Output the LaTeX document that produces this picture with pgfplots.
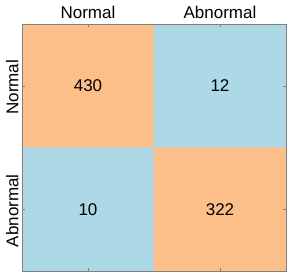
\documentclass[border=0pt]{standalone}
\usepackage{pgfplots}
\pgfplotsset{compat=1.18}
\usepackage{fontspec}
\setmainfont{Liberation Sans}
\definecolor{cmorange}{RGB}{253,191,138}
\definecolor{cmblue}{RGB}{173,216,230}
\definecolor{axgray}{RGB}{128,128,128}
\begin{document}
\begin{tikzpicture}
\begin{axis}[
  name=ax,
  scale only axis,
  width=264pt, height=247pt,
  xmin=-0.5, xmax=1.5, ymin=-0.5, ymax=1.5,
  y dir=reverse,
  axis on top,
  xtick={0,1}, ytick={0,1},
  xticklabels={Normal,Abnormal},
  yticklabels={Normal,Abnormal},
  x tick label style={font=\fontsize{17}{20}\selectfont, yshift=2pt},
  y tick label style={font=\fontsize{17}{20}\selectfont, rotate=90, anchor=south, xshift=-1.5pt},
  xticklabel pos=right,
  tick align=inside,
  major tick length=3pt,
  tick style={axgray, line width=0.5pt},
  axis line style={axgray, line width=0.8pt},
  colormap={cm}{color(0)=(cmblue) color(1)=(cmorange)},
  point meta min=0, point meta max=1,
]
\addplot[matrix plot*, mesh/cols=2, point meta=explicit, draw=none] coordinates {
  (0,0) [1] (1,0) [0]

  (0,1) [0] (1,1) [1]
};
\addplot[only marks, mark=none, nodes near coords, point meta=explicit symbolic,
  nodes near coords align={center},
  every node near coord/.append style={font=\fontsize{17}{20}\selectfont, text=black}]
  coordinates {(0,0)[430] (1,0)[12] (0,1)[10] (1,1)[322]};
\end{axis}
\pgfresetboundingbox
\path ([xshift=-22pt,yshift=-7pt]ax.south west) rectangle ([xshift=3pt,yshift=24pt]ax.north east);
\end{tikzpicture}
\end{document}
